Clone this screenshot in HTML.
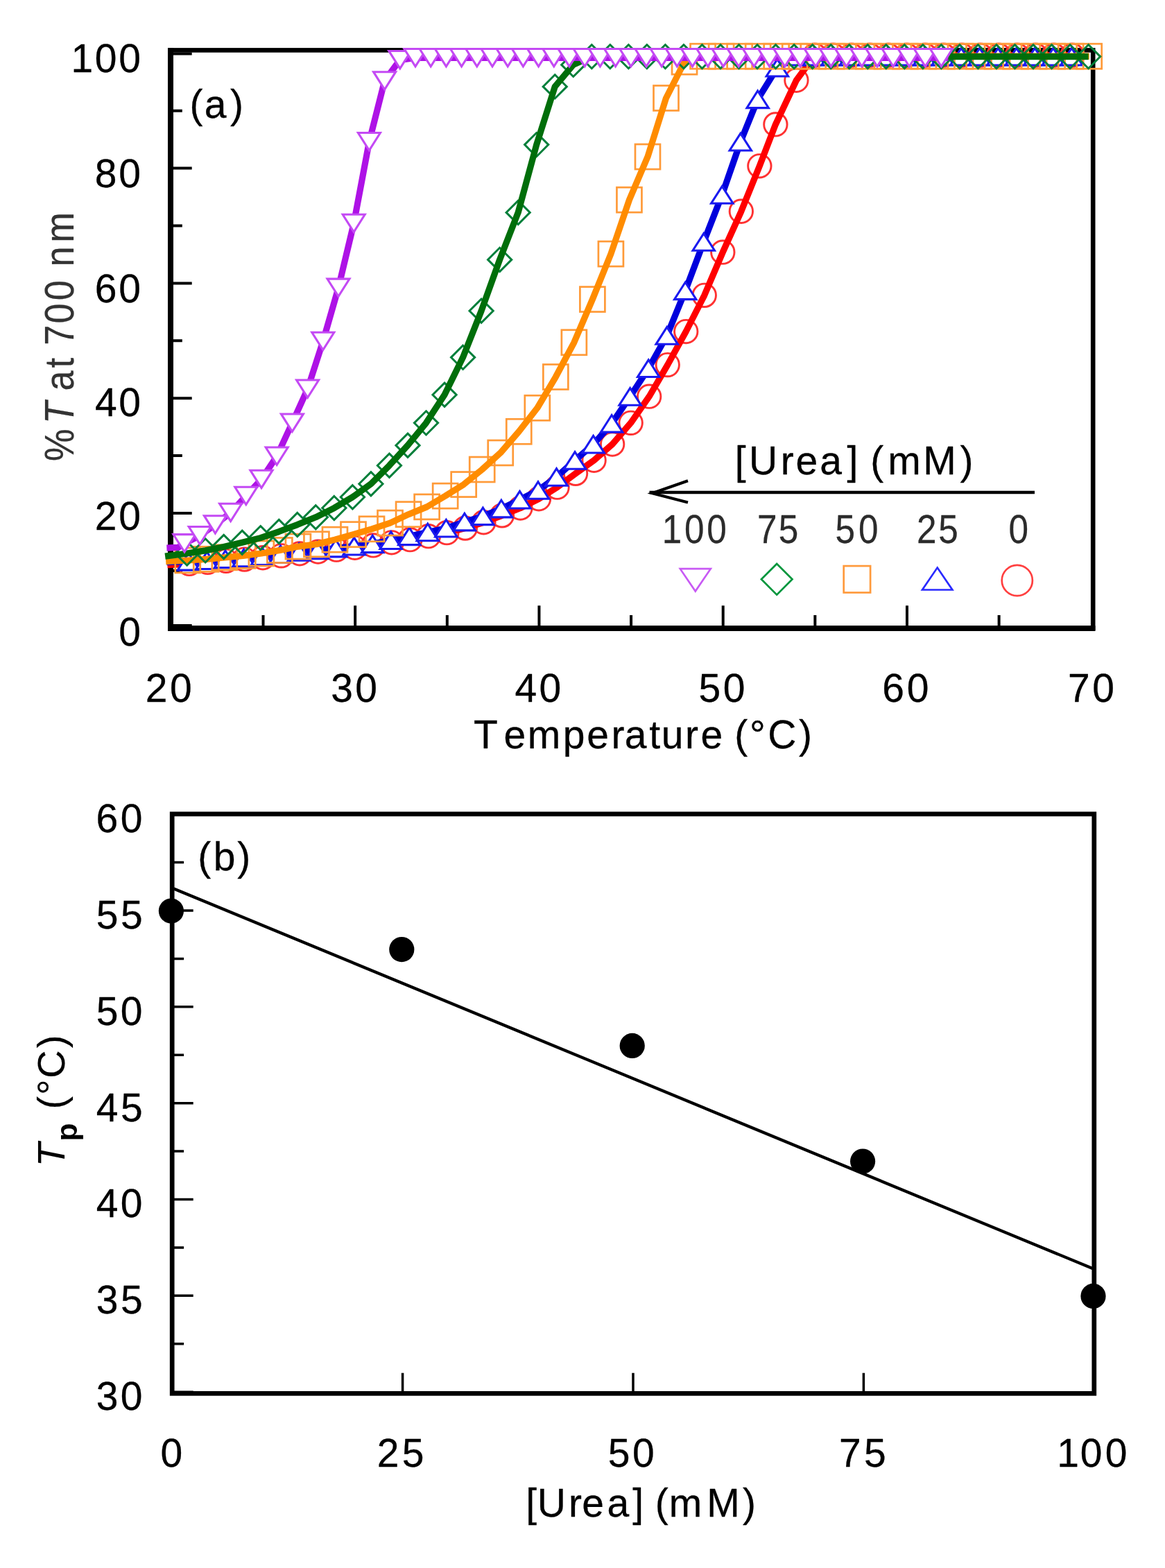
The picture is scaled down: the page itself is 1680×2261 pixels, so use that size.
<!DOCTYPE html>
<html lang="en"><head><meta charset="utf-8"><title>Urea turbidity figure</title>
<style>
html,body{margin:0;padding:0;background:#fff;}
body{width:1680px;height:2261px;overflow:hidden;}
svg{display:block;}
text{font-family:"Liberation Sans",sans-serif;font-kerning:none;fill:#000;white-space:pre;stroke:#000;stroke-width:0.3px;stroke-linejoin:round;}
.i{font-style:italic;}
.b{font-weight:bold;}
</style></head><body>
<svg width="1680" height="2261" viewBox="0 0 1680 2261">
<rect width="1680" height="2261" fill="#fff"/>
<g id="plot-a">
<rect x="246" y="72.4" width="1330.2" height="833.2" fill="none" stroke="#000" stroke-width="6.6"/>
<path d="M246 69.1V908.9" fill="none" stroke="#000" stroke-width="8"/>
<path d="M242 906.1H1579.5" fill="none" stroke="#000" stroke-width="7.8"/>
<path d="M246 902H276.7M246 822.9H262.8M246 740H276.7M246 657.1H262.8M246 574.2H276.7M246 491.3H262.8M246 408.4H276.7M246 325.5H262.8M246 242.6H276.7M246 159.7H262.8M246 77.4H276.7M379.53 905.6V887.1M512.17 905.6V873.3M644.81 905.6V887.1M777.44 905.6V873.3M910.08 905.6V887.1M1042.71 905.6V873.3M1175.35 905.6V887.1M1307.98 905.6V873.3M1440.62 905.6V887.1" fill="none" stroke="#000" stroke-width="4"/>
<g id="s0">
<circle cx="272.93" cy="812.95" r="16.7" fill="none" stroke="#ff3232" stroke-width="2.9"/>
<circle cx="299.46" cy="810.88" r="16.7" fill="none" stroke="#ff3232" stroke-width="2.9"/>
<circle cx="325.99" cy="808.81" r="16.7" fill="none" stroke="#ff3232" stroke-width="2.9"/>
<circle cx="352.52" cy="806.57" r="16.7" fill="none" stroke="#ff3232" stroke-width="2.9"/>
<circle cx="379.05" cy="804.25" r="16.7" fill="none" stroke="#ff3232" stroke-width="2.9"/>
<circle cx="405.58" cy="801.35" r="16.7" fill="none" stroke="#ff3232" stroke-width="2.9"/>
<circle cx="432.11" cy="798.28" r="16.7" fill="none" stroke="#ff3232" stroke-width="2.9"/>
<circle cx="458.64" cy="795.54" r="16.7" fill="none" stroke="#ff3232" stroke-width="2.9"/>
<circle cx="485.17" cy="792.64" r="16.7" fill="none" stroke="#ff3232" stroke-width="2.9"/>
<circle cx="511.7" cy="789.74" r="16.7" fill="none" stroke="#ff3232" stroke-width="2.9"/>
<circle cx="538.23" cy="786.42" r="16.7" fill="none" stroke="#ff3232" stroke-width="2.9"/>
<circle cx="564.76" cy="782.28" r="16.7" fill="none" stroke="#ff3232" stroke-width="2.9"/>
<circle cx="591.29" cy="778.13" r="16.7" fill="none" stroke="#ff3232" stroke-width="2.9"/>
<circle cx="617.82" cy="773.16" r="16.7" fill="none" stroke="#ff3232" stroke-width="2.9"/>
<circle cx="644.35" cy="768.19" r="16.7" fill="none" stroke="#ff3232" stroke-width="2.9"/>
<circle cx="670.88" cy="761.55" r="16.7" fill="none" stroke="#ff3232" stroke-width="2.9"/>
<circle cx="697.41" cy="753.26" r="16.7" fill="none" stroke="#ff3232" stroke-width="2.9"/>
<circle cx="723.94" cy="743.32" r="16.7" fill="none" stroke="#ff3232" stroke-width="2.9"/>
<circle cx="750.47" cy="732.54" r="16.7" fill="none" stroke="#ff3232" stroke-width="2.9"/>
<circle cx="777" cy="719.27" r="16.7" fill="none" stroke="#ff3232" stroke-width="2.9"/>
<circle cx="803.53" cy="702.69" r="16.7" fill="none" stroke="#ff3232" stroke-width="2.9"/>
<circle cx="830.06" cy="682.8" r="16.7" fill="none" stroke="#ff3232" stroke-width="2.9"/>
<circle cx="856.59" cy="663.73" r="16.7" fill="none" stroke="#ff3232" stroke-width="2.9"/>
<circle cx="883.12" cy="640.52" r="16.7" fill="none" stroke="#ff3232" stroke-width="2.9"/>
<circle cx="909.65" cy="609.85" r="16.7" fill="none" stroke="#ff3232" stroke-width="2.9"/>
<circle cx="936.18" cy="571.71" r="16.7" fill="none" stroke="#ff3232" stroke-width="2.9"/>
<circle cx="962.71" cy="526.12" r="16.7" fill="none" stroke="#ff3232" stroke-width="2.9"/>
<circle cx="989.24" cy="478.04" r="16.7" fill="none" stroke="#ff3232" stroke-width="2.9"/>
<circle cx="1015.77" cy="425.81" r="16.7" fill="none" stroke="#ff3232" stroke-width="2.9"/>
<circle cx="1042.3" cy="363.63" r="16.7" fill="none" stroke="#ff3232" stroke-width="2.9"/>
<circle cx="1068.83" cy="304.77" r="16.7" fill="none" stroke="#ff3232" stroke-width="2.9"/>
<circle cx="1095.36" cy="239.28" r="16.7" fill="none" stroke="#ff3232" stroke-width="2.9"/>
<circle cx="1118.39" cy="179.44" r="16.7" fill="none" stroke="#ff3232" stroke-width="2.9"/>
<circle cx="1148.42" cy="115.76" r="16.7" fill="none" stroke="#ff3232" stroke-width="2.9"/>
<circle cx="1174.95" cy="79.7" r="16.7" fill="none" stroke="#ff3232" stroke-width="2.9"/>
<circle cx="1201.48" cy="79.7" r="16.7" fill="none" stroke="#ff3232" stroke-width="2.9"/>
<circle cx="1228.01" cy="79.7" r="16.7" fill="none" stroke="#ff3232" stroke-width="2.9"/>
<circle cx="1254.54" cy="79.7" r="16.7" fill="none" stroke="#ff3232" stroke-width="2.9"/>
<circle cx="1281.07" cy="79.7" r="16.7" fill="none" stroke="#ff3232" stroke-width="2.9"/>
<circle cx="1307.6" cy="79.7" r="16.7" fill="none" stroke="#ff3232" stroke-width="2.9"/>
<circle cx="1334.13" cy="79.7" r="16.7" fill="none" stroke="#ff3232" stroke-width="2.9"/>
<circle cx="1360.66" cy="79.7" r="16.7" fill="none" stroke="#ff3232" stroke-width="2.9"/>
<circle cx="1387.19" cy="79.7" r="16.7" fill="none" stroke="#ff3232" stroke-width="2.9"/>
<circle cx="1413.72" cy="79.7" r="16.7" fill="none" stroke="#ff3232" stroke-width="2.9"/>
<circle cx="1440.25" cy="79.7" r="16.7" fill="none" stroke="#ff3232" stroke-width="2.9"/>
<circle cx="1466.78" cy="79.7" r="16.7" fill="none" stroke="#ff3232" stroke-width="2.9"/>
<circle cx="1493.31" cy="79.7" r="16.7" fill="none" stroke="#ff3232" stroke-width="2.9"/>
<circle cx="1519.84" cy="79.7" r="16.7" fill="none" stroke="#ff3232" stroke-width="2.9"/>
<circle cx="1546.37" cy="79.7" r="16.7" fill="none" stroke="#ff3232" stroke-width="2.9"/>
<polyline fill="none" stroke="#ff0000" stroke-width="9.2" stroke-linejoin="round" points="241.4,814.61 272.93,812.95 299.46,810.88 325.99,808.81 352.52,806.57 379.05,804.25 405.58,801.35 432.11,798.28 458.64,795.54 485.17,792.64 511.7,789.74 538.23,786.42 564.76,782.28 591.29,778.13 617.82,773.16 644.35,768.19 670.88,761.55 697.41,753.26 723.94,743.32 750.47,732.54 777,719.27 803.53,702.69 830.06,682.8 856.59,663.73 883.12,640.52 909.65,609.85 936.18,571.71 962.71,526.12 989.24,478.04 1015.77,425.81 1042.3,363.63 1068.83,304.77 1095.36,239.28 1118.39,179.44 1148.42,115.76 1174.95,79.7 1201.48,79.7 1228.01,79.7 1254.54,79.7 1281.07,79.7 1307.6,79.7 1334.13,79.7 1360.66,79.7 1387.19,79.7 1413.72,79.7 1440.25,79.7 1466.78,79.7 1493.31,79.7 1519.84,79.7 1546.37,79.7"/>
</g>
<g id="s25">
<polyline fill="none" stroke="#0000dc" stroke-width="9.2" stroke-linejoin="round" points="240.4,810.63 271.93,809.8 298.46,808.14 324.99,806.32 351.52,804.41 378.05,802.17 404.58,799.27 431.11,795.96 457.64,793.47 484.17,790.57 510.7,787.67 537.23,784.35 563.76,779.13 590.29,773.33 616.82,767.52 643.35,761.72 669.88,752.6 696.41,744.31 722.94,733.53 749.47,720.68 776,707.01 802.53,687.94 829.06,663.9 855.59,640.69 882.12,610.84 908.65,571.88 935.18,531.26 961.71,484 988.24,419.34 1014.77,348.88 1041.3,280.9 1067.83,204.63 1092.66,143.29 1120.89,97.69 1147.42,81.77 1173.95,81.77 1200.48,81.77 1227.01,81.77 1253.54,81.77 1280.07,81.77 1306.6,81.77 1333.13,81.77 1359.66,81.77 1386.19,81.77 1412.72,81.77 1439.25,81.77 1465.78,81.77 1492.31,81.77 1518.84,81.77 1545.37,81.77"/>
<path d="M271.93 797.5L287.63 822.1L256.23 822.1Z" fill="#fff" stroke="#1a1af0" stroke-width="3.1"/>
<path d="M298.46 795.84L314.16 820.44L282.76 820.44Z" fill="#fff" stroke="#1a1af0" stroke-width="3.1"/>
<path d="M324.99 794.02L340.69 818.62L309.29 818.62Z" fill="#fff" stroke="#1a1af0" stroke-width="3.1"/>
<path d="M351.52 792.11L367.22 816.71L335.82 816.71Z" fill="#fff" stroke="#1a1af0" stroke-width="3.1"/>
<path d="M378.05 789.88L393.75 814.47L362.35 814.47Z" fill="#fff" stroke="#1a1af0" stroke-width="3.1"/>
<path d="M404.58 786.97L420.28 811.57L388.88 811.57Z" fill="#fff" stroke="#1a1af0" stroke-width="3.1"/>
<path d="M431.11 783.66L446.81 808.26L415.41 808.26Z" fill="#fff" stroke="#1a1af0" stroke-width="3.1"/>
<path d="M457.64 781.17L473.34 805.77L441.94 805.77Z" fill="#fff" stroke="#1a1af0" stroke-width="3.1"/>
<path d="M484.17 778.27L499.87 802.87L468.47 802.87Z" fill="#fff" stroke="#1a1af0" stroke-width="3.1"/>
<path d="M510.7 775.37L526.4 799.97L495 799.97Z" fill="#fff" stroke="#1a1af0" stroke-width="3.1"/>
<path d="M537.23 772.05L552.93 796.65L521.53 796.65Z" fill="#fff" stroke="#1a1af0" stroke-width="3.1"/>
<path d="M563.76 766.83L579.46 791.43L548.06 791.43Z" fill="#fff" stroke="#1a1af0" stroke-width="3.1"/>
<path d="M590.29 761.03L605.99 785.63L574.59 785.63Z" fill="#fff" stroke="#1a1af0" stroke-width="3.1"/>
<path d="M616.82 755.22L632.52 779.82L601.12 779.82Z" fill="#fff" stroke="#1a1af0" stroke-width="3.1"/>
<path d="M643.35 749.42L659.05 774.02L627.65 774.02Z" fill="#fff" stroke="#1a1af0" stroke-width="3.1"/>
<path d="M669.88 740.3L685.58 764.9L654.18 764.9Z" fill="#fff" stroke="#1a1af0" stroke-width="3.1"/>
<path d="M696.41 732.01L712.11 756.61L680.71 756.61Z" fill="#fff" stroke="#1a1af0" stroke-width="3.1"/>
<path d="M722.94 721.23L738.64 745.83L707.24 745.83Z" fill="#fff" stroke="#1a1af0" stroke-width="3.1"/>
<path d="M749.47 708.38L765.17 732.98L733.77 732.98Z" fill="#fff" stroke="#1a1af0" stroke-width="3.1"/>
<path d="M776 694.71L791.7 719.31L760.3 719.31Z" fill="#fff" stroke="#1a1af0" stroke-width="3.1"/>
<path d="M802.53 675.64L818.23 700.24L786.83 700.24Z" fill="#fff" stroke="#1a1af0" stroke-width="3.1"/>
<path d="M829.06 651.6L844.76 676.2L813.36 676.2Z" fill="#fff" stroke="#1a1af0" stroke-width="3.1"/>
<path d="M855.59 628.39L871.29 652.99L839.89 652.99Z" fill="#fff" stroke="#1a1af0" stroke-width="3.1"/>
<path d="M882.12 598.54L897.82 623.14L866.42 623.14Z" fill="#fff" stroke="#1a1af0" stroke-width="3.1"/>
<path d="M908.65 559.58L924.35 584.18L892.95 584.18Z" fill="#fff" stroke="#1a1af0" stroke-width="3.1"/>
<path d="M935.18 518.96L950.88 543.56L919.48 543.56Z" fill="#fff" stroke="#1a1af0" stroke-width="3.1"/>
<path d="M961.71 471.7L977.41 496.3L946.01 496.3Z" fill="#fff" stroke="#1a1af0" stroke-width="3.1"/>
<path d="M988.24 407.04L1003.94 431.64L972.54 431.64Z" fill="#fff" stroke="#1a1af0" stroke-width="3.1"/>
<path d="M1014.77 336.58L1030.47 361.18L999.07 361.18Z" fill="#fff" stroke="#1a1af0" stroke-width="3.1"/>
<path d="M1041.3 268.6L1057 293.2L1025.6 293.2Z" fill="#fff" stroke="#1a1af0" stroke-width="3.1"/>
<path d="M1067.83 192.33L1083.53 216.93L1052.13 216.93Z" fill="#fff" stroke="#1a1af0" stroke-width="3.1"/>
<path d="M1092.66 130.99L1108.36 155.59L1076.96 155.59Z" fill="#fff" stroke="#1a1af0" stroke-width="3.1"/>
<path d="M1120.89 85.39L1136.59 109.99L1105.19 109.99Z" fill="#fff" stroke="#1a1af0" stroke-width="3.1"/>
<path d="M1147.42 69.47L1163.12 94.07L1131.72 94.07Z" fill="#fff" stroke="#1a1af0" stroke-width="3.1"/>
<path d="M1173.95 69.47L1189.65 94.07L1158.25 94.07Z" fill="#fff" stroke="#1a1af0" stroke-width="3.1"/>
<path d="M1200.48 69.47L1216.18 94.07L1184.78 94.07Z" fill="#fff" stroke="#1a1af0" stroke-width="3.1"/>
<path d="M1227.01 69.47L1242.71 94.07L1211.31 94.07Z" fill="#fff" stroke="#1a1af0" stroke-width="3.1"/>
<path d="M1253.54 69.47L1269.24 94.07L1237.84 94.07Z" fill="#fff" stroke="#1a1af0" stroke-width="3.1"/>
<path d="M1280.07 69.47L1295.77 94.07L1264.37 94.07Z" fill="#fff" stroke="#1a1af0" stroke-width="3.1"/>
<path d="M1306.6 69.47L1322.3 94.07L1290.9 94.07Z" fill="#fff" stroke="#1a1af0" stroke-width="3.1"/>
<path d="M1333.13 69.47L1348.83 94.07L1317.43 94.07Z" fill="#fff" stroke="#1a1af0" stroke-width="3.1"/>
<path d="M1359.66 69.47L1375.36 94.07L1343.96 94.07Z" fill="#fff" stroke="#1a1af0" stroke-width="3.1"/>
<path d="M1386.19 69.47L1401.89 94.07L1370.49 94.07Z" fill="#fff" stroke="#1a1af0" stroke-width="3.1"/>
<path d="M1412.72 69.47L1428.42 94.07L1397.02 94.07Z" fill="#fff" stroke="#1a1af0" stroke-width="3.1"/>
<path d="M1439.25 69.47L1454.95 94.07L1423.55 94.07Z" fill="#fff" stroke="#1a1af0" stroke-width="3.1"/>
<path d="M1465.78 69.47L1481.48 94.07L1450.08 94.07Z" fill="#fff" stroke="#1a1af0" stroke-width="3.1"/>
<path d="M1492.31 69.47L1508.01 94.07L1476.61 94.07Z" fill="#fff" stroke="#1a1af0" stroke-width="3.1"/>
<path d="M1518.84 69.47L1534.54 94.07L1503.14 94.07Z" fill="#fff" stroke="#1a1af0" stroke-width="3.1"/>
<path d="M1545.37 69.47L1561.07 94.07L1529.67 94.07Z" fill="#fff" stroke="#1a1af0" stroke-width="3.1"/>
</g>
<g id="s50">
<rect x="252.73" y="789.98" width="36" height="36" fill="none" stroke="#ff9a38" stroke-width="2.7"/>
<rect x="279.26" y="788.32" width="36" height="36" fill="none" stroke="#ff9a38" stroke-width="2.7"/>
<rect x="305.79" y="785.83" width="36" height="36" fill="none" stroke="#ff9a38" stroke-width="2.7"/>
<rect x="332.32" y="783.35" width="36" height="36" fill="none" stroke="#ff9a38" stroke-width="2.7"/>
<rect x="358.85" y="780.03" width="36" height="36" fill="none" stroke="#ff9a38" stroke-width="2.7"/>
<rect x="385.38" y="775.47" width="36" height="36" fill="none" stroke="#ff9a38" stroke-width="2.7"/>
<rect x="411.91" y="770.08" width="36" height="36" fill="none" stroke="#ff9a38" stroke-width="2.7"/>
<rect x="438.44" y="766.77" width="36" height="36" fill="none" stroke="#ff9a38" stroke-width="2.7"/>
<rect x="464.97" y="760.13" width="36" height="36" fill="none" stroke="#ff9a38" stroke-width="2.7"/>
<rect x="491.5" y="752.67" width="36" height="36" fill="none" stroke="#ff9a38" stroke-width="2.7"/>
<rect x="518.03" y="744.8" width="36" height="36" fill="none" stroke="#ff9a38" stroke-width="2.7"/>
<rect x="544.56" y="736.09" width="36" height="36" fill="none" stroke="#ff9a38" stroke-width="2.7"/>
<rect x="571.09" y="723.66" width="36" height="36" fill="none" stroke="#ff9a38" stroke-width="2.7"/>
<rect x="597.62" y="712.88" width="36" height="36" fill="none" stroke="#ff9a38" stroke-width="2.7"/>
<rect x="624.15" y="697.13" width="36" height="36" fill="none" stroke="#ff9a38" stroke-width="2.7"/>
<rect x="650.68" y="680.55" width="36" height="36" fill="none" stroke="#ff9a38" stroke-width="2.7"/>
<rect x="677.21" y="659" width="36" height="36" fill="none" stroke="#ff9a38" stroke-width="2.7"/>
<rect x="703.74" y="634.95" width="36" height="36" fill="none" stroke="#ff9a38" stroke-width="2.7"/>
<rect x="730.27" y="604.28" width="36" height="36" fill="none" stroke="#ff9a38" stroke-width="2.7"/>
<rect x="756.8" y="570.29" width="36" height="36" fill="none" stroke="#ff9a38" stroke-width="2.7"/>
<rect x="783.33" y="525.53" width="36" height="36" fill="none" stroke="#ff9a38" stroke-width="2.7"/>
<rect x="809.86" y="475.79" width="36" height="36" fill="none" stroke="#ff9a38" stroke-width="2.7"/>
<rect x="836.39" y="413.61" width="36" height="36" fill="none" stroke="#ff9a38" stroke-width="2.7"/>
<rect x="862.92" y="348.12" width="36" height="36" fill="none" stroke="#ff9a38" stroke-width="2.7"/>
<rect x="889.45" y="270.2" width="36" height="36" fill="none" stroke="#ff9a38" stroke-width="2.7"/>
<rect x="915.98" y="208.02" width="36" height="36" fill="none" stroke="#ff9a38" stroke-width="2.7"/>
<rect x="942.51" y="123.46" width="36" height="36" fill="none" stroke="#ff9a38" stroke-width="2.7"/>
<rect x="969.04" y="71.24" width="36" height="36" fill="none" stroke="#ff9a38" stroke-width="2.7"/>
<rect x="995.57" y="63.19" width="36" height="36" fill="none" stroke="#ff9a38" stroke-width="2.7"/>
<rect x="1022.1" y="63.19" width="36" height="36" fill="none" stroke="#ff9a38" stroke-width="2.7"/>
<rect x="1048.63" y="63.19" width="36" height="36" fill="none" stroke="#ff9a38" stroke-width="2.7"/>
<rect x="1075.16" y="63.19" width="36" height="36" fill="none" stroke="#ff9a38" stroke-width="2.7"/>
<rect x="1101.69" y="63.19" width="36" height="36" fill="none" stroke="#ff9a38" stroke-width="2.7"/>
<rect x="1128.22" y="63.19" width="36" height="36" fill="none" stroke="#ff9a38" stroke-width="2.7"/>
<rect x="1154.75" y="63.19" width="36" height="36" fill="none" stroke="#ff9a38" stroke-width="2.7"/>
<rect x="1181.28" y="63.19" width="36" height="36" fill="none" stroke="#ff9a38" stroke-width="2.7"/>
<rect x="1207.81" y="63.19" width="36" height="36" fill="none" stroke="#ff9a38" stroke-width="2.7"/>
<rect x="1234.34" y="63.19" width="36" height="36" fill="none" stroke="#ff9a38" stroke-width="2.7"/>
<rect x="1260.87" y="63.19" width="36" height="36" fill="none" stroke="#ff9a38" stroke-width="2.7"/>
<rect x="1287.4" y="63.19" width="36" height="36" fill="none" stroke="#ff9a38" stroke-width="2.7"/>
<rect x="1313.93" y="63.19" width="36" height="36" fill="none" stroke="#ff9a38" stroke-width="2.7"/>
<rect x="1340.46" y="63.19" width="36" height="36" fill="none" stroke="#ff9a38" stroke-width="2.7"/>
<rect x="1366.99" y="63.19" width="36" height="36" fill="none" stroke="#ff9a38" stroke-width="2.7"/>
<rect x="1393.52" y="63.19" width="36" height="36" fill="none" stroke="#ff9a38" stroke-width="2.7"/>
<rect x="1420.05" y="63.19" width="36" height="36" fill="none" stroke="#ff9a38" stroke-width="2.7"/>
<rect x="1446.58" y="63.19" width="36" height="36" fill="none" stroke="#ff9a38" stroke-width="2.7"/>
<rect x="1473.11" y="63.19" width="36" height="36" fill="none" stroke="#ff9a38" stroke-width="2.7"/>
<rect x="1499.64" y="63.19" width="36" height="36" fill="none" stroke="#ff9a38" stroke-width="2.7"/>
<rect x="1526.17" y="63.19" width="36" height="36" fill="none" stroke="#ff9a38" stroke-width="2.7"/>
<rect x="1552.7" y="63.19" width="36" height="36" fill="none" stroke="#ff9a38" stroke-width="2.7"/>
<polyline fill="none" stroke="#ff8c00" stroke-width="9.2" stroke-linejoin="round" points="239.2,809.64 270.73,807.98 297.26,806.32 323.79,803.83 350.32,801.35 376.85,798.03 403.38,793.47 429.91,788.08 456.44,784.77 482.97,778.13 509.5,770.67 536.03,762.8 562.56,754.09 589.09,741.66 615.62,730.88 642.15,715.13 668.68,698.55 695.21,677 721.74,652.95 748.27,622.28 774.8,588.29 801.33,543.53 827.86,493.79 854.39,431.61 880.92,366.12 907.45,288.2 933.98,226.02 960.51,141.46 987.04,89.24 1013.57,81.19 1040.1,81.19 1066.63,81.19 1093.16,81.19 1119.69,81.19 1146.22,81.19 1172.75,81.19 1199.28,81.19 1225.81,81.19 1252.34,81.19 1278.87,81.19 1305.4,81.19 1331.93,81.19 1358.46,81.19 1384.99,81.19 1411.52,81.19 1438.05,81.19 1464.58,81.19 1491.11,81.19 1517.64,81.19 1544.17,81.19 1570.7,81.19"/>
</g>
<g id="s75">
<path d="M269.63 780.93L286.73 798.03L269.63 815.13L252.53 798.03Z" fill="none" stroke="#007f3a" stroke-width="3"/>
<path d="M296.16 776.78L313.26 793.88L296.16 810.99L279.06 793.88Z" fill="none" stroke="#007f3a" stroke-width="3"/>
<path d="M322.69 771.4L339.79 788.5L322.69 805.6L305.59 788.5Z" fill="none" stroke="#007f3a" stroke-width="3"/>
<path d="M349.22 765.18L366.32 782.28L349.22 799.38L332.12 782.28Z" fill="none" stroke="#007f3a" stroke-width="3"/>
<path d="M375.75 758.55L392.85 775.65L375.75 792.75L358.65 775.65Z" fill="none" stroke="#007f3a" stroke-width="3"/>
<path d="M402.28 749.43L419.38 766.53L402.28 783.63L385.18 766.53Z" fill="none" stroke="#007f3a" stroke-width="3"/>
<path d="M428.81 739.48L445.91 756.58L428.81 773.68L411.71 756.58Z" fill="none" stroke="#007f3a" stroke-width="3"/>
<path d="M455.34 728.7L472.44 745.8L455.34 762.9L438.24 745.8Z" fill="none" stroke="#007f3a" stroke-width="3"/>
<path d="M481.87 715.44L498.97 732.54L481.87 749.64L464.77 732.54Z" fill="none" stroke="#007f3a" stroke-width="3"/>
<path d="M508.4 699.69L525.5 716.79L508.4 733.89L491.3 716.79Z" fill="none" stroke="#007f3a" stroke-width="3"/>
<path d="M534.93 680.62L552.03 697.72L534.93 714.82L517.83 697.72Z" fill="none" stroke="#007f3a" stroke-width="3"/>
<path d="M561.46 654.09L578.56 671.19L561.46 688.29L544.36 671.19Z" fill="none" stroke="#007f3a" stroke-width="3"/>
<path d="M587.99 625.08L605.09 642.18L587.99 659.28L570.89 642.18Z" fill="none" stroke="#007f3a" stroke-width="3"/>
<path d="M614.52 592.75L631.62 609.85L614.52 626.95L597.42 609.85Z" fill="none" stroke="#007f3a" stroke-width="3"/>
<path d="M641.05 552.13L658.15 569.23L641.05 586.33L623.95 569.23Z" fill="none" stroke="#007f3a" stroke-width="3"/>
<path d="M667.58 498.24L684.68 515.34L667.58 532.44L650.48 515.34Z" fill="none" stroke="#007f3a" stroke-width="3"/>
<path d="M694.11 431.09L711.21 448.19L694.11 465.29L677.01 448.19Z" fill="none" stroke="#007f3a" stroke-width="3"/>
<path d="M720.64 357.31L737.74 374.41L720.64 391.51L703.54 374.41Z" fill="none" stroke="#007f3a" stroke-width="3"/>
<path d="M747.17 289.33L764.27 306.43L747.17 323.53L730.07 306.43Z" fill="none" stroke="#007f3a" stroke-width="3"/>
<path d="M773.7 191.51L790.8 208.61L773.7 225.71L756.6 208.61Z" fill="none" stroke="#007f3a" stroke-width="3"/>
<path d="M800.23 107.78L817.33 124.88L800.23 141.98L783.13 124.88Z" fill="none" stroke="#007f3a" stroke-width="3"/>
<path d="M826.76 76.28L843.86 93.38L826.76 110.48L809.66 93.38Z" fill="none" stroke="#007f3a" stroke-width="3"/>
<path d="M853.29 64.51L870.39 81.61L853.29 98.71L836.19 81.61Z" fill="none" stroke="#007f3a" stroke-width="3"/>
<path d="M879.82 64.51L896.92 81.61L879.82 98.71L862.72 81.61Z" fill="none" stroke="#007f3a" stroke-width="3"/>
<path d="M906.35 64.51L923.45 81.61L906.35 98.71L889.25 81.61Z" fill="none" stroke="#007f3a" stroke-width="3"/>
<path d="M932.88 64.51L949.98 81.61L932.88 98.71L915.78 81.61Z" fill="none" stroke="#007f3a" stroke-width="3"/>
<path d="M959.41 64.51L976.51 81.61L959.41 98.71L942.31 81.61Z" fill="none" stroke="#007f3a" stroke-width="3"/>
<path d="M985.94 64.51L1003.04 81.61L985.94 98.71L968.84 81.61Z" fill="none" stroke="#007f3a" stroke-width="3"/>
<path d="M1012.47 64.51L1029.57 81.61L1012.47 98.71L995.37 81.61Z" fill="none" stroke="#007f3a" stroke-width="3"/>
<path d="M1039 64.51L1056.1 81.61L1039 98.71L1021.9 81.61Z" fill="none" stroke="#007f3a" stroke-width="3"/>
<path d="M1065.53 64.51L1082.63 81.61L1065.53 98.71L1048.43 81.61Z" fill="none" stroke="#007f3a" stroke-width="3"/>
<path d="M1092.06 64.51L1109.16 81.61L1092.06 98.71L1074.96 81.61Z" fill="none" stroke="#007f3a" stroke-width="3"/>
<path d="M1118.59 64.51L1135.69 81.61L1118.59 98.71L1101.49 81.61Z" fill="none" stroke="#007f3a" stroke-width="3"/>
<path d="M1145.12 64.51L1162.22 81.61L1145.12 98.71L1128.02 81.61Z" fill="none" stroke="#007f3a" stroke-width="3"/>
<path d="M1171.65 64.51L1188.75 81.61L1171.65 98.71L1154.55 81.61Z" fill="none" stroke="#007f3a" stroke-width="3"/>
<path d="M1198.18 64.51L1215.28 81.61L1198.18 98.71L1181.08 81.61Z" fill="none" stroke="#007f3a" stroke-width="3"/>
<path d="M1224.71 64.51L1241.81 81.61L1224.71 98.71L1207.61 81.61Z" fill="none" stroke="#007f3a" stroke-width="3"/>
<path d="M1251.24 64.51L1268.34 81.61L1251.24 98.71L1234.14 81.61Z" fill="none" stroke="#007f3a" stroke-width="3"/>
<path d="M1277.77 64.51L1294.87 81.61L1277.77 98.71L1260.67 81.61Z" fill="none" stroke="#007f3a" stroke-width="3"/>
<path d="M1304.3 64.51L1321.4 81.61L1304.3 98.71L1287.2 81.61Z" fill="none" stroke="#007f3a" stroke-width="3"/>
<path d="M1330.83 64.51L1347.93 81.61L1330.83 98.71L1313.73 81.61Z" fill="none" stroke="#007f3a" stroke-width="3"/>
<path d="M1357.36 64.51L1374.46 81.61L1357.36 98.71L1340.26 81.61Z" fill="none" stroke="#007f3a" stroke-width="3"/>
<path d="M1383.89 64.51L1400.99 81.61L1383.89 98.71L1366.79 81.61Z" fill="none" stroke="#007f3a" stroke-width="3"/>
<path d="M1410.42 64.51L1427.52 81.61L1410.42 98.71L1393.32 81.61Z" fill="none" stroke="#007f3a" stroke-width="3"/>
<path d="M1436.95 64.51L1454.05 81.61L1436.95 98.71L1419.85 81.61Z" fill="none" stroke="#007f3a" stroke-width="3"/>
<path d="M1463.48 64.51L1480.58 81.61L1463.48 98.71L1446.38 81.61Z" fill="none" stroke="#007f3a" stroke-width="3"/>
<path d="M1490.01 64.51L1507.11 81.61L1490.01 98.71L1472.91 81.61Z" fill="none" stroke="#007f3a" stroke-width="3"/>
<path d="M1516.54 64.51L1533.64 81.61L1516.54 98.71L1499.44 81.61Z" fill="none" stroke="#007f3a" stroke-width="3"/>
<path d="M1543.07 64.51L1560.17 81.61L1543.07 98.71L1525.97 81.61Z" fill="none" stroke="#007f3a" stroke-width="3"/>
<path d="M1569.6 64.51L1586.7 81.61L1569.6 98.71L1552.5 81.61Z" fill="none" stroke="#007f3a" stroke-width="3"/>
<polyline fill="none" stroke="#006e0a" stroke-width="9.2" stroke-linejoin="round" points="238.1,802.17 269.63,798.03 296.16,793.88 322.69,788.5 349.22,782.28 375.75,775.65 402.28,766.53 428.81,756.58 455.34,745.8 481.87,732.54 508.4,716.79 534.93,697.72 561.46,671.19 587.99,642.18 614.52,609.85 641.05,569.23 667.58,515.34 694.11,448.19 720.64,374.41 747.17,306.43 773.7,208.61 800.23,124.88 826.76,93.38 853.29,81.61 879.82,81.61 906.35,81.61 932.88,81.61 959.41,81.61 985.94,81.61 1012.47,81.61 1039,81.61 1065.53,81.61 1092.06,81.61 1118.59,81.61 1145.12,81.61 1171.65,81.61 1198.18,81.61 1224.71,81.61 1251.24,81.61 1277.77,81.61 1304.3,81.61 1330.83,81.61 1357.36,81.61 1383.89,81.61 1410.42,81.61 1436.95,81.61 1463.48,81.61 1490.01,81.61 1516.54,81.61 1543.07,81.61 1569.6,81.61"/>
</g>
<g id="s100">
<polyline fill="none" stroke="#ae12e6" stroke-width="9.2" stroke-linejoin="round" points="240.4,790.15 257,789.33 266,783.52 288.2,772.33 310.4,756.58 332.6,739.17 354.8,715.13 377,691.09 399.2,657.93 421.4,609.85 443.6,560.94 465.8,492.13 488,415.03 510.2,322.18 532.4,204.47 554.6,116.59 576.8,86.33 599,83.43 621.2,83.43 643.4,83.43 665.6,83.43 687.8,83.43 710,83.43 732.2,83.43 754.4,83.43 776.6,83.43 798.8,83.43 821,83.43 843.2,83.43 865.4,83.43 887.6,83.43 909.8,83.43 932,83.43 954.2,83.43 976.4,83.43 998.6,83.43 1020.8,83.43 1043,83.43 1065.2,83.43 1087.4,83.43 1109.6,83.43 1131.8,83.43 1154,83.43 1176.2,83.43 1198.4,83.43 1220.6,83.43 1242.8,83.43 1265,83.43 1288.1,83.43 1311.2,83.43 1334.3,83.43 1357.4,83.43 1367.4,83.43"/>
<path d="M250 770.62L282 770.62L266 795.92Z" fill="#fff" stroke="#c44af4" stroke-width="3.1"/>
<path d="M272.2 759.43L304.2 759.43L288.2 784.73Z" fill="#fff" stroke="#c44af4" stroke-width="3.1"/>
<path d="M294.4 743.68L326.4 743.68L310.4 768.98Z" fill="#fff" stroke="#c44af4" stroke-width="3.1"/>
<path d="M316.6 726.27L348.6 726.27L332.6 751.57Z" fill="#fff" stroke="#c44af4" stroke-width="3.1"/>
<path d="M338.8 702.23L370.8 702.23L354.8 727.53Z" fill="#fff" stroke="#c44af4" stroke-width="3.1"/>
<path d="M361 678.19L393 678.19L377 703.49Z" fill="#fff" stroke="#c44af4" stroke-width="3.1"/>
<path d="M383.2 645.03L415.2 645.03L399.2 670.33Z" fill="#fff" stroke="#c44af4" stroke-width="3.1"/>
<path d="M405.4 596.95L437.4 596.95L421.4 622.25Z" fill="#fff" stroke="#c44af4" stroke-width="3.1"/>
<path d="M427.6 548.04L459.6 548.04L443.6 573.34Z" fill="#fff" stroke="#c44af4" stroke-width="3.1"/>
<path d="M449.8 479.23L481.8 479.23L465.8 504.53Z" fill="#fff" stroke="#c44af4" stroke-width="3.1"/>
<path d="M472 402.13L504 402.13L488 427.43Z" fill="#fff" stroke="#c44af4" stroke-width="3.1"/>
<path d="M494.2 309.28L526.2 309.28L510.2 334.58Z" fill="#fff" stroke="#c44af4" stroke-width="3.1"/>
<path d="M516.4 191.57L548.4 191.57L532.4 216.87Z" fill="#fff" stroke="#c44af4" stroke-width="3.1"/>
<path d="M538.6 103.69L570.6 103.69L554.6 128.99Z" fill="#fff" stroke="#c44af4" stroke-width="3.1"/>
<path d="M560.8 73.43L592.8 73.43L576.8 98.73Z" fill="#fff" stroke="#c44af4" stroke-width="3.1"/>
<path d="M583 70.53L615 70.53L599 95.83Z" fill="#fff" stroke="#c44af4" stroke-width="3.1"/>
<path d="M605.2 70.53L637.2 70.53L621.2 95.83Z" fill="#fff" stroke="#c44af4" stroke-width="3.1"/>
<path d="M627.4 70.53L659.4 70.53L643.4 95.83Z" fill="#fff" stroke="#c44af4" stroke-width="3.1"/>
<path d="M649.6 70.53L681.6 70.53L665.6 95.83Z" fill="#fff" stroke="#c44af4" stroke-width="3.1"/>
<path d="M671.8 70.53L703.8 70.53L687.8 95.83Z" fill="#fff" stroke="#c44af4" stroke-width="3.1"/>
<path d="M694 70.53L726 70.53L710 95.83Z" fill="#fff" stroke="#c44af4" stroke-width="3.1"/>
<path d="M716.2 70.53L748.2 70.53L732.2 95.83Z" fill="#fff" stroke="#c44af4" stroke-width="3.1"/>
<path d="M738.4 70.53L770.4 70.53L754.4 95.83Z" fill="#fff" stroke="#c44af4" stroke-width="3.1"/>
<path d="M760.6 70.53L792.6 70.53L776.6 95.83Z" fill="#fff" stroke="#c44af4" stroke-width="3.1"/>
<path d="M782.8 70.53L814.8 70.53L798.8 95.83Z" fill="#fff" stroke="#c44af4" stroke-width="3.1"/>
<path d="M805 70.53L837 70.53L821 95.83Z" fill="#fff" stroke="#c44af4" stroke-width="3.1"/>
<path d="M827.2 70.53L859.2 70.53L843.2 95.83Z" fill="#fff" stroke="#c44af4" stroke-width="3.1"/>
<path d="M849.4 70.53L881.4 70.53L865.4 95.83Z" fill="#fff" stroke="#c44af4" stroke-width="3.1"/>
<path d="M871.6 70.53L903.6 70.53L887.6 95.83Z" fill="#fff" stroke="#c44af4" stroke-width="3.1"/>
<path d="M893.8 70.53L925.8 70.53L909.8 95.83Z" fill="#fff" stroke="#c44af4" stroke-width="3.1"/>
<path d="M916 70.53L948 70.53L932 95.83Z" fill="#fff" stroke="#c44af4" stroke-width="3.1"/>
<path d="M938.2 70.53L970.2 70.53L954.2 95.83Z" fill="#fff" stroke="#c44af4" stroke-width="3.1"/>
<path d="M960.4 70.53L992.4 70.53L976.4 95.83Z" fill="#fff" stroke="#c44af4" stroke-width="3.1"/>
<path d="M982.6 70.53L1014.6 70.53L998.6 95.83Z" fill="#fff" stroke="#c44af4" stroke-width="3.1"/>
<path d="M1004.8 70.53L1036.8 70.53L1020.8 95.83Z" fill="#fff" stroke="#c44af4" stroke-width="3.1"/>
<path d="M1027 70.53L1059 70.53L1043 95.83Z" fill="#fff" stroke="#c44af4" stroke-width="3.1"/>
<path d="M1049.2 70.53L1081.2 70.53L1065.2 95.83Z" fill="#fff" stroke="#c44af4" stroke-width="3.1"/>
<path d="M1071.4 70.53L1103.4 70.53L1087.4 95.83Z" fill="#fff" stroke="#c44af4" stroke-width="3.1"/>
<path d="M1093.6 70.53L1125.6 70.53L1109.6 95.83Z" fill="#fff" stroke="#c44af4" stroke-width="3.1"/>
<path d="M1115.8 70.53L1147.8 70.53L1131.8 95.83Z" fill="#fff" stroke="#c44af4" stroke-width="3.1"/>
<path d="M1138 70.53L1170 70.53L1154 95.83Z" fill="#fff" stroke="#c44af4" stroke-width="3.1"/>
<path d="M1160.2 70.53L1192.2 70.53L1176.2 95.83Z" fill="#fff" stroke="#c44af4" stroke-width="3.1"/>
<path d="M1182.4 70.53L1214.4 70.53L1198.4 95.83Z" fill="#fff" stroke="#c44af4" stroke-width="3.1"/>
<path d="M1204.6 70.53L1236.6 70.53L1220.6 95.83Z" fill="#fff" stroke="#c44af4" stroke-width="3.1"/>
<path d="M1226.8 70.53L1258.8 70.53L1242.8 95.83Z" fill="#fff" stroke="#c44af4" stroke-width="3.1"/>
<path d="M1249 70.53L1281 70.53L1265 95.83Z" fill="#fff" stroke="#c44af4" stroke-width="3.1"/>
<path d="M1272.1 70.53L1304.1 70.53L1288.1 95.83Z" fill="#fff" stroke="#c44af4" stroke-width="3.1"/>
<path d="M1295.2 70.53L1327.2 70.53L1311.2 95.83Z" fill="#fff" stroke="#c44af4" stroke-width="3.1"/>
<path d="M1318.3 70.53L1350.3 70.53L1334.3 95.83Z" fill="#fff" stroke="#c44af4" stroke-width="3.1"/>
<path d="M1341.4 70.53L1373.4 70.53L1357.4 95.83Z" fill="#fff" stroke="#c44af4" stroke-width="3.1"/>
</g>
<g id="legend">
<path d="M1492 710H936.5" fill="none" stroke="#000" stroke-width="4.6"/>
<path d="M992 693.2L940.5 711.2L992 724.4" fill="none" stroke="#000" stroke-width="4.1" stroke-linejoin="miter"/>
<text x="1059.87 1080.02 1125.69 1147.51 1182.14 1221.49 1237.33 1255.31 1280.25 1331.26 1384.41" y="684" font-size="57">[Urea] (mM)</text>
<text transform="matrix(0.9 0 0 1.02 0 783.4)" x="1060.74 1096.71 1132.48" y="0" font-size="57" style="fill:#2b2b2b;stroke:#2b2b2b;stroke-width:0.25px">100</text>
<text transform="matrix(0.9 0 0 1.02 0 783.4)" x="1213.23 1247.54" y="0" font-size="57" style="fill:#2b2b2b;stroke:#2b2b2b;stroke-width:0.25px">75</text>
<text transform="matrix(0.9 0 0 1.02 0 783.4)" x="1338.21 1375.48" y="0" font-size="57" style="fill:#2b2b2b;stroke:#2b2b2b;stroke-width:0.25px">50</text>
<text transform="matrix(0.9 0 0 1.02 0 783.4)" x="1468.82 1503.65" y="0" font-size="57" style="fill:#2b2b2b;stroke:#2b2b2b;stroke-width:0.25px">25</text>
<text transform="matrix(0.9 0 0 1.02 0 783.4)" x="1616.04" y="0" font-size="57" style="fill:#2b2b2b;stroke:#2b2b2b;stroke-width:0.25px">0</text>
<path d="M980.8 820.2H1024.8L1002.8 852.6Z" fill="none" stroke="#c85af4" stroke-width="2.7"/>
<path d="M1120.2 813L1142.5 835.3L1120.2 857.6L1097.9 835.3Z" fill="none" stroke="#00963c" stroke-width="2.7"/>
<rect x="1216.7" y="816.1" width="38.4" height="38.4" fill="none" stroke="#ff9a3c" stroke-width="2.7"/>
<path d="M1351.7 818.6L1373.4 850.5H1330Z" fill="none" stroke="#2a2aff" stroke-width="2.7"/>
<circle cx="1466.8" cy="837" r="22.1" fill="none" stroke="#ff4040" stroke-width="2.7"/>
</g>
<g id="labels-a">
<text transform="matrix(1 0 0 1.02 0 930.8)" x="171.15" y="0" font-size="57">0</text>
<text transform="matrix(1 0 0 1.02 0 763.6)" x="136.85 171.15" y="0" font-size="57">20</text>
<text transform="matrix(1 0 0 1.02 0 599.8)" x="137.03 171.15" y="0" font-size="57">40</text>
<text transform="matrix(1 0 0 1.02 0 436.4)" x="136.65 171.15" y="0" font-size="57">60</text>
<text transform="matrix(1 0 0 1.02 0 269.7)" x="136.85 171.15" y="0" font-size="57">80</text>
<text transform="matrix(1 0 0 1.02 0 103.8)" x="102.55 136.85 171.15" y="0" font-size="57">100</text>
<text transform="matrix(1 0 0 1.02 0 1011.6)" x="209.85 245.05" y="0" font-size="57">20</text>
<text transform="matrix(1 0 0 1.02 0 1011.6)" x="477.22 512.25" y="0" font-size="57">30</text>
<text transform="matrix(1 0 0 1.02 0 1011.6)" x="742.43 777.45" y="0" font-size="57">40</text>
<text transform="matrix(1 0 0 1.02 0 1011.6)" x="1007.61 1042.75" y="0" font-size="57">50</text>
<text transform="matrix(1 0 0 1.02 0 1011.6)" x="1272.25 1307.65" y="0" font-size="57">60</text>
<text transform="matrix(1 0 0 1.02 0 1011.6)" x="1540.02 1575.25" y="0" font-size="57">70</text>
<text x="682.9 726.61 760.7 811.66 846.21 881.39 900.74 936.26 953.79 988.09 1010.41 1042.11 1059.21 1081.02 1107.16 1152.11" y="1079.2" font-size="57">Temperature (°C)</text>
<text x="273.41 294.69 332.01" y="170" font-size="57">(a)</text>
<text transform="translate(106 663.5) rotate(-90) scale(0.91 1.03)" x="-1.55 47.77 57.77 97.19 109.82 146.18 162.16 182.11 216.54 253.13 285.11 306.72 344.72" y="0" font-size="57.5" style="fill:#333;stroke:#333;stroke-width:0.2px">%<tspan> </tspan><tspan class="i">T</tspan> at 700 nm</text>
</g>
</g>
<g id="plot-b">
<rect x="248.2" y="1173.8" width="1329.6" height="835.5" fill="none" stroke="#000" stroke-width="6.7"/>
<path d="M248.2 2007.2H278.7M248.2 1937.78H265.1M248.2 1868.35H278.7M248.2 1798.92H265.1M248.2 1729.5H278.7M248.2 1660.08H265.1M248.2 1590.65H278.7M248.2 1521.23H265.1M248.2 1451.8H278.7M248.2 1382.38H265.1M248.2 1312.95H278.7M248.2 1243.53H265.1M580.6 2009.3V1979.8M913 2009.3V1979.8M1245.4 2009.3V1979.8" fill="none" stroke="#000" stroke-width="3.5"/>
<path d="M248.2 1280.46L1577.8 1830.03" fill="none" stroke="#000" stroke-width="4.3"/>
<circle cx="246.9" cy="1313.55" r="18.1" fill="#000"/>
<circle cx="579.3" cy="1369.09" r="18.1" fill="#000"/>
<circle cx="911.7" cy="1507.94" r="18.1" fill="#000"/>
<circle cx="1244.1" cy="1674.56" r="18.1" fill="#000"/>
<circle cx="1576.5" cy="1868.95" r="18.1" fill="#000"/>
<g id="labels-b">
<text transform="matrix(1 0 0 1.02 0 2033.1)" x="138.82 173.85" y="0" font-size="57">30</text>
<text transform="matrix(1 0 0 1.02 0 1894.25)" x="138.82 173.91" y="0" font-size="57">35</text>
<text transform="matrix(1 0 0 1.02 0 1755.4)" x="138.83 173.85" y="0" font-size="57">40</text>
<text transform="matrix(1 0 0 1.02 0 1616.55)" x="138.83 173.91" y="0" font-size="57">45</text>
<text transform="matrix(1 0 0 1.02 0 1477.7)" x="138.71 173.85" y="0" font-size="57">50</text>
<text transform="matrix(1 0 0 1.02 0 1338.85)" x="138.71 173.91" y="0" font-size="57">55</text>
<text transform="matrix(1 0 0 1.02 0 1200)" x="138.45 173.85" y="0" font-size="57">60</text>
<text transform="matrix(1 0 0 1.02 0 2115.2)" x="231.45" y="0" font-size="57">0</text>
<text transform="matrix(1 0 0 1.02 0 2115.2)" x="543.75 579.71" y="0" font-size="57">25</text>
<text transform="matrix(1 0 0 1.02 0 2115.2)" x="876.71 911.95" y="0" font-size="57">50</text>
<text transform="matrix(1 0 0 1.02 0 2115.2)" x="1210.12 1246.11" y="0" font-size="57">75</text>
<text transform="matrix(1 0 0 1.02 0 2115.2)" x="1524.29 1557.75 1593.65" y="0" font-size="57">100</text>
<text x="758.22 774.72 820.04 839.36 875.39 912.34 928.18 944.66 964.65 1019.21 1071.01" y="2187.3" font-size="57">[Urea] (mM)</text>
<text x="285.21 307.71 342.21" y="1255" font-size="57">(b)</text>
<text transform="translate(92.5 1677.5) rotate(-90)" font-size="56" style="stroke-width:0.15px"><tspan class="i" x="-4.67" y="0">T</tspan><tspan class="b" x="31.93" y="18" font-size="42.5" style="stroke:none">p</tspan><tspan x="62" y="0"> </tspan><tspan x="78 98.82 122.72 166.15" y="0">(°C)</tspan></text>
</g>
</g>
</svg></body></html>
